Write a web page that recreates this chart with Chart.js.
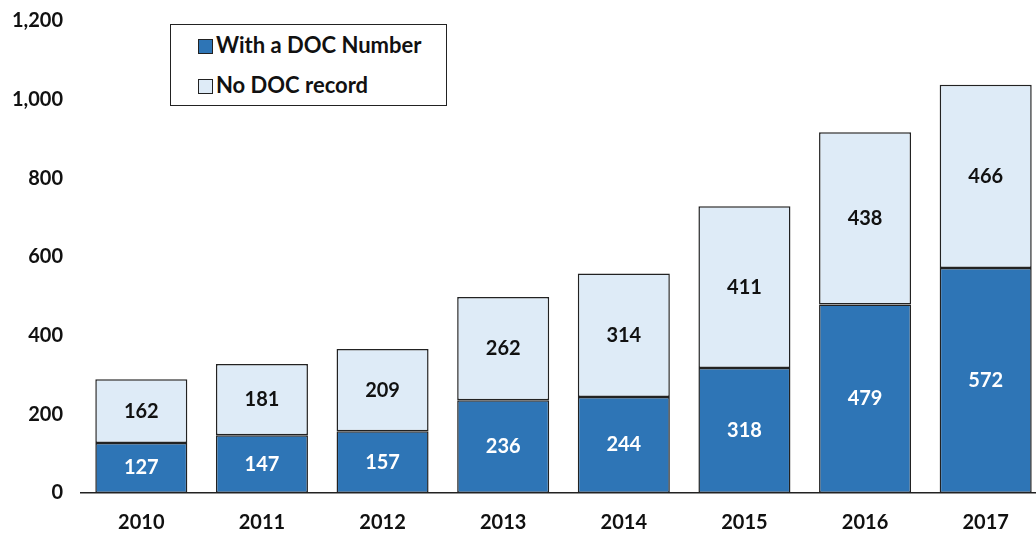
<!DOCTYPE html>
<html>
<head>
<meta charset="utf-8">
<script src="https://cdn.jsdelivr.net/npm/chart.js@4"></script>
<style>
  html, body { margin: 0; padding: 0; background: #fff; overflow: hidden; }
  #wrap { position: relative; width: 1036px; height: 537px; overflow: hidden; }
  #box { position: absolute; left: 0; top: -9px; width: 1050px; height: 546px; }
  #legend {
    position: absolute; left: 170px; top: 24px; width: 277px; height: 82px;
    border: 1px solid #222; background: #fff; box-sizing: border-box;
    font: bold 22px Lato, "Liberation Sans", sans-serif; color: #111;
  }
  #legend div { position: absolute; left: 27px; white-space: nowrap; line-height: 26px; }
  #legend span {
    display: inline-block; width: 13px; height: 13px; border: 1px solid #222;
    margin-right: 3px; vertical-align: -1px;
  }
</style>
</head>
<body>
<div id="wrap">
  <div id="box"><canvas id="chart" width="1050" height="546"></canvas></div>
  <div id="legend"></div>
</div>
<script>
// du lieu doc tu hinh
const years = ['2010', '2011', '2012', '2013', '2014', '2015', '2016', '2017'];
const withDoc = [127, 147, 157, 236, 244, 318, 479, 572];
const noDoc = [162, 181, 209, 262, 314, 411, 438, 466];
const seriesNames = ['With a DOC Number', 'No DOC record'];
const seriesColors = ['#2E75B6', '#DEEBF7'];
const labelColors = ['#ffffff', '#111111'];
const yTicks = [0, 200, 400, 600, 800, 1000, 1200];

const fontMain = { family: 'Lato, "Liberation Sans", sans-serif', size: 20, weight: 'bold' };

// ve so len giua moi doan cot
const valueLabels = {
  id: 'valueLabels',
  afterDatasetsDraw(chart) {
    const ctx = chart.ctx;
    ctx.save();
    ctx.font = 'bold 20px Lato, "Liberation Sans", sans-serif';
    ctx.textAlign = 'center';
    ctx.textBaseline = 'middle';
    chart.data.datasets.forEach((ds, i) => {
      const meta = chart.getDatasetMeta(i);
      meta.data.forEach((bar, j) => {
        const p = bar.getProps(['x', 'y', 'base'], true);
        ctx.fillStyle = labelColors[i];
        ctx.fillText(ds.data[j], p.x, (p.y + p.base) / 2);
      });
    });
    ctx.restore();
  }
};

const chart = new Chart(document.getElementById('chart').getContext('2d'), {
  type: 'bar',
  data: {
    labels: years,
    datasets: [
      { label: seriesNames[0], data: withDoc, backgroundColor: seriesColors[0],
        borderColor: '#222', borderWidth: 1.5, borderSkipped: false,
        barPercentage: 0.763, categoryPercentage: 1 },
      { label: seriesNames[1], data: noDoc, backgroundColor: seriesColors[1],
        borderColor: '#222', borderWidth: 1.5, borderSkipped: false,
        barPercentage: 0.763, categoryPercentage: 1 }
    ]
  },
  options: {
    responsive: false,
    animation: false,
    layout: { padding: { top: 0, right: 4, bottom: 0, left: 0 } },
    plugins: { legend: { display: false }, tooltip: { enabled: false } },
    scales: {
      x: {
        stacked: true,
        grid: { display: false, drawTicks: false },
        border: { display: true, color: '#222', width: 1.5 },
        ticks: { color: '#111', font: fontMain, padding: 18 },
        afterFit(scale) { scale.height = 44; }
      },
      y: {
        stacked: true,
        min: 0, max: 1200,
        afterBuildTicks(scale) { scale.ticks = yTicks.map(v => ({ value: v })); },
        grid: { display: false, drawTicks: false },
        border: { display: false },
        ticks: {
          color: '#111', font: fontMain, padding: 18,
          callback: v => v.toLocaleString('en-US')
        },
        afterFit(scale) { scale.width = 81; }
      }
    }
  },
  plugins: [valueLabels]
});

// chu thich dang html
const legend = document.getElementById('legend');
seriesNames.forEach((name, i) => {
  const row = document.createElement('div');
  row.style.top = (i === 0 ? 7 : 47) + 'px';
  row.innerHTML = '<span style="background:' + seriesColors[i] + '"></span>' + name;
  legend.appendChild(row);
});
</script>
</body>
</html>
